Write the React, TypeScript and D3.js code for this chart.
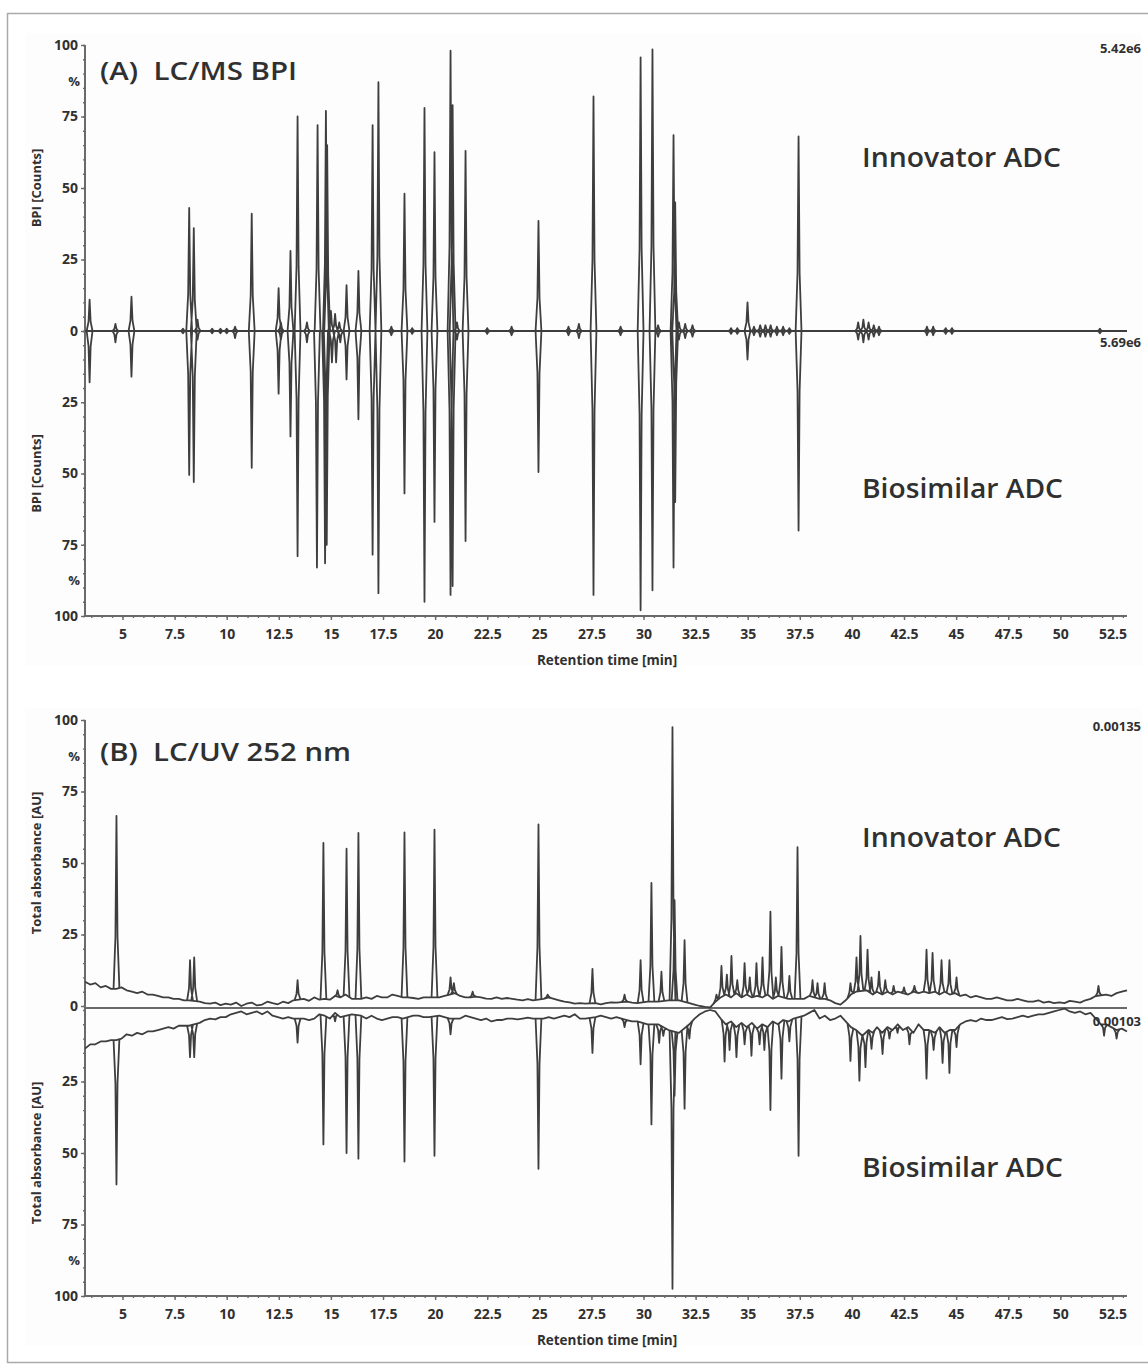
import React, { useEffect, useRef } from "react";
import * as d3 from "d3";

type Pt = [number, number];

// ---- data ----
const timeDomain: Pt = [3.2, 53.2];
const xTickLabels = [5, 7.5, 10, 12.5, 15, 17.5, 20, 22.5, 25, 27.5, 30, 32.5, 35, 37.5, 40, 42.5, 45, 47.5, 50, 52.5];
const yTickLabels = [0, 25, 50, 75, 100];

// (A) LC/MS BPI, [retention time, % height]
const bpiInnovatorPeaks: Pt[] = [
  [3.42, 11], [4.66, 2.5], [5.43, 12], [7.9, 0.8], [8.2, 43], [8.42, 36], [8.6, 4], [9.3, 0.8], [9.7, 0.8],
  [10.0, 0.8], [10.4, 1.5], [11.2, 41], [12.49, 15], [12.6, 3], [13.06, 28], [13.4, 75], [13.85, 3],
  [14.36, 72], [14.76, 77], [14.82, 65], [15.0, 7], [15.2, 6], [15.4, 3], [15.75, 16], [16.32, 21],
  [17.0, 72], [17.28, 87], [17.9, 1.5], [18.53, 48], [18.9, 1], [19.49, 78], [19.97, 62.5], [20.74, 98],
  [20.84, 79], [21.05, 3], [21.46, 63], [22.5, 1], [23.67, 1.5], [24.96, 38.5], [26.4, 1.5], [26.9, 2.5],
  [27.6, 82], [28.9, 1.5], [29.86, 95.7], [30.43, 98.5], [30.7, 2], [31.44, 68.5], [31.52, 45], [31.7, 3],
  [32.0, 2.5], [32.35, 2], [34.2, 1], [34.5, 1], [34.99, 10], [35.3, 1.5], [35.6, 2], [35.85, 2], [36.1, 2],
  [36.4, 1.5], [36.7, 1.5], [37.0, 1], [37.44, 68], [40.3, 3], [40.55, 4], [40.8, 3], [41.05, 2], [41.3, 1.5],
  [43.6, 1.5], [43.9, 1.5], [44.5, 1], [44.8, 1], [51.9, 0.8],
];
const bpiBiosimilarPeaks: Pt[] = [
  [3.42, 18], [4.66, 4], [5.43, 16], [7.9, 0.8], [8.2, 50.5], [8.42, 53], [8.6, 3], [9.3, 0.8], [9.7, 0.8],
  [10.0, 0.8], [10.4, 2.5], [11.2, 48], [12.49, 22], [12.6, 3], [13.06, 37], [13.4, 79], [13.85, 4],
  [14.33, 83], [14.72, 81.5], [14.8, 75], [15.05, 11], [15.25, 11], [15.45, 4], [15.75, 17], [16.32, 31],
  [17.0, 78.5], [17.28, 92], [17.9, 1.5], [18.53, 57], [18.9, 1], [19.49, 95], [19.97, 67], [20.74, 92.6],
  [20.84, 89.5], [21.05, 3], [21.46, 73.7], [22.5, 1], [23.67, 1.5], [24.96, 49.5], [26.4, 1.5], [26.9, 2.5],
  [27.6, 92.6], [28.9, 1.5], [29.86, 98], [30.43, 91], [30.7, 2], [31.44, 83], [31.52, 60], [31.7, 3],
  [32.0, 2.5], [32.35, 2], [34.2, 1], [34.5, 1], [34.99, 10], [35.3, 1.5], [35.6, 2], [35.85, 2], [36.1, 2],
  [36.4, 1.5], [36.7, 1.5], [37.0, 1], [37.44, 70], [40.3, 3], [40.55, 4], [40.8, 3], [41.05, 2], [41.3, 1.5],
  [43.6, 1.5], [43.9, 1.5], [44.5, 1], [44.8, 1], [51.9, 0.8],
];

// (B) LC/UV 252 nm baselines, [retention time, %]
const uvInnovatorBaseline: Pt[] = [
  [3.2, 8.5], [3.45, 7.5], [3.7, 8], [3.95, 6.5], [4.2, 7], [4.45, 6], [4.7, 6], [4.95, 6.5], [5.2, 5.5],
  [5.45, 5], [5.7, 4.5], [5.95, 5], [6.2, 4], [6.45, 4], [6.7, 3.5], [6.95, 3], [7.2, 3], [7.45, 2.5],
  [7.7, 2.5], [7.95, 2], [8.2, 2], [8.7, 1.5], [8.95, 1], [9.2, 0.8], [9.45, 1.2], [9.7, 0.3], [9.95, 0.8],
  [10.2, 0.5], [10.45, 1.2], [10.7, 0], [10.95, 0.8], [11.2, 1.2], [11.45, 0.2], [11.7, 0.5], [11.95, 1.5],
  [12.2, 1], [12.45, 0.6], [12.7, 1.5], [12.95, 1], [13.2, 2], [13.7, 2.5], [13.95, 1.8], [14.2, 3], [14.45, 2.2],
  [14.7, 2.5], [14.95, 2.2], [15.2, 3.5], [15.45, 3], [15.7, 4], [16.0, 2.5], [16.45, 2.5], [16.7, 3],
  [16.95, 2.5], [17.2, 3.5], [17.45, 3], [17.7, 3], [17.95, 4], [18.2, 3.5], [18.45, 3], [18.7, 3], [18.95, 2.8],
  [19.2, 2.5], [19.45, 3], [19.7, 3], [20.2, 3], [20.45, 3.5], [20.7, 4], [20.95, 4.5], [21.2, 3.5],
  [21.45, 3], [21.7, 3], [21.95, 3.3], [22.2, 3], [22.45, 2.6], [22.7, 2.5], [22.95, 3], [23.2, 2.5],
  [23.45, 2.8], [23.7, 2.5], [23.95, 2.2], [24.2, 2], [24.45, 2.4], [24.7, 2], [25.2, 2.5], [25.45, 3],
  [25.7, 2.5], [25.95, 2], [26.2, 1.5], [26.45, 1.3], [26.7, 0.8], [26.95, 1], [27.2, 0.8], [27.7, 1],
  [27.95, 0.6], [28.2, 1], [28.45, 1.3], [28.7, 1.2], [29.2, 1.5], [29.45, 1.2], [29.7, 1], [30.2, 1.5],
  [30.7, 1.5], [31.2, 2], [31.7, 2], [32.2, 1], [32.45, 0.5], [32.7, 0], [32.95, -0.3], [33.2, -0.5],
  [33.45, 1.5], [33.7, 3], [33.95, 4], [34.2, 3], [34.45, 4.5], [34.7, 3], [34.95, 4], [35.2, 3], [35.45, 3.5],
  [35.7, 3], [35.95, 4], [36.2, 2.5], [36.45, 3.5], [36.7, 3], [36.95, 2.5], [37.2, 2.5],
  [37.7, 2.5], [37.95, 3.5], [38.2, 3], [38.45, 2.5], [38.7, 2.5], [38.95, 2], [39.2, 1], [39.45, 0.5],
  [39.7, 2], [39.95, 4], [40.2, 5], [40.7, 5.5], [41.0, 4], [41.2, 5], [41.45, 4], [41.7, 5], [41.95, 4], [42.2, 5],
  [42.45, 4.5], [42.7, 4], [42.95, 5], [43.2, 4.5], [43.45, 5], [43.7, 4.5], [44.0, 5], [44.2, 4], [44.45, 5],
  [44.7, 4], [44.95, 4.5], [45.2, 3.5], [45.45, 4], [45.7, 3], [45.95, 3.5], [46.2, 3], [46.45, 2.5], [46.7, 2.5], [46.95, 3],
  [47.2, 2.5], [47.45, 2], [47.7, 2], [47.95, 2.5], [48.2, 2], [48.45, 1.5], [48.7, 1.5], [48.95, 2],
  [49.2, 1.2], [49.45, 1.5], [49.7, 1], [49.95, 1.3], [50.2, 1], [50.45, 1.8], [50.7, 1.5], [50.95, 1.2],
  [51.2, 2], [51.45, 2.5], [51.7, 3.5], [52.2, 4], [52.45, 3.5], [52.7, 4.5], [52.95, 5], [53.2, 5.5],
];
const uvBiosimilarBaseline: Pt[] = [
  [3.2, 13.5], [3.45, 12], [3.7, 12], [3.95, 11], [4.2, 11], [4.45, 10.5], [4.7, 10.5], [4.95, 10],
  [5.2, 8.5], [5.45, 9], [5.7, 8], [5.95, 8.5], [6.2, 7.5], [6.45, 7.5], [6.7, 7], [6.95, 6.5], [7.2, 6],
  [7.45, 6.5], [7.7, 5.5], [7.95, 5.5], [8.2, 5.5], [8.7, 4.5], [8.95, 3.5], [9.2, 3], [9.45, 3.3],
  [9.7, 2.5], [9.95, 2.5], [10.2, 1.5], [10.45, 1], [10.7, 0.5], [10.95, 1.5], [11.2, 1], [11.45, 0.5],
  [11.7, 1.5], [11.95, 0.5], [12.2, 2], [12.45, 2.5], [12.7, 3], [12.95, 2.5], [13.2, 3], [13.7, 3],
  [13.95, 3.5], [14.2, 3], [14.45, 1.5], [14.7, 2], [14.95, 3], [15.2, 1], [15.45, 2.5], [16.0, 1.5],
  [16.45, 2], [16.7, 3], [16.95, 2], [17.2, 3], [17.45, 3.5], [17.7, 3], [17.95, 2.5], [18.2, 2.5],
  [18.45, 3], [18.7, 2.5], [18.95, 2], [19.2, 2], [19.45, 2.5], [19.7, 2.5], [20.2, 2], [20.45, 2.5],
  [20.7, 3], [20.95, 3], [21.2, 3], [21.45, 2], [21.7, 2.5], [21.95, 3], [22.2, 3.5], [22.45, 3],
  [22.7, 4], [22.95, 3.5], [23.2, 3.5], [23.45, 3], [23.7, 3], [23.95, 3.3], [24.2, 3], [24.45, 2.7],
  [24.7, 3], [25.2, 3], [25.45, 2.5], [25.7, 3], [25.95, 2.5], [26.2, 2], [26.45, 2.5], [26.7, 1.5],
  [26.95, 3], [27.2, 3], [27.7, 2.5], [27.95, 2], [28.2, 2.5], [28.45, 3], [28.7, 2.5], [28.95, 3],
  [29.2, 3.5], [29.45, 4], [29.7, 4], [30.2, 5], [30.7, 5], [31.2, 7], [31.7, 8], [32.2, 5], [32.45, 3],
  [32.7, 1.5], [32.95, 0.5], [33.2, 0], [33.45, 0.5], [33.7, 3], [33.95, 5], [34.2, 4], [34.45, 6], [34.7, 4.5],
  [34.95, 6], [35.2, 4.5], [35.45, 6.5], [35.7, 5], [35.95, 6], [36.2, 4], [36.45, 5], [36.7, 3.5], [36.95, 4],
  [37.2, 3], [37.7, 2], [37.95, 1], [38.2, 0], [38.45, 3], [38.7, 2],
  [38.95, 3.5], [39.2, 3], [39.45, 2], [39.7, 4], [39.95, 6], [40.2, 7], [40.5, 9], [40.8, 7], [41.0, 8], [41.2, 6],
  [41.45, 8], [41.7, 6], [41.95, 7], [42.2, 5], [42.45, 7], [42.7, 6], [42.95, 8], [43.2, 5], [43.45, 7], [43.7, 7],
  [44.0, 8], [44.2, 6], [44.45, 8], [44.7, 7], [44.95, 7], [45.2, 5], [45.45, 4], [45.7, 3.5],
  [45.95, 4], [46.2, 3], [46.45, 3.5], [46.7, 3.5], [46.95, 3], [47.2, 2.5], [47.45, 3.2], [47.7, 3],
  [47.95, 2.5], [48.2, 2], [48.45, 2.5], [48.7, 2], [48.95, 1.5], [49.2, 1.5], [49.45, 1], [49.7, 0.5],
  [49.95, 0], [50.2, -0.5], [50.45, 0.5], [50.7, 1], [50.95, 0.5], [51.2, 1.5], [51.45, 1], [51.7, 3],
  [51.95, 5], [52.2, 5], [52.45, 6], [52.7, 7], [52.95, 6.5], [53.2, 7.5],
];
// (B) peak apexes, [retention time, %]
const uvInnovatorPeaks: Pt[] = [
  [4.71, 66.5], [8.24, 16], [8.44, 17], [13.4, 9], [14.64, 57], [15.32, 5.5], [15.75, 55], [16.32, 60.5],
  [18.53, 60.7], [19.97, 61.7], [20.74, 10], [20.9, 8], [21.8, 5], [24.96, 63.5], [25.4, 4], [27.55, 13],
  [29.09, 4], [29.86, 16], [30.38, 43], [30.86, 12], [31.39, 97.5], [31.49, 37], [31.97, 23],
  [33.5, 4], [33.74, 14], [34.0, 11], [34.22, 17.5], [34.5, 9], [34.85, 15], [35.1, 10], [35.42, 15],
  [35.71, 17], [36.09, 33], [36.35, 10], [36.62, 20.7], [37.0, 10.5], [37.39, 55.5], [38.11, 9],
  [38.35, 8], [38.69, 8], [39.93, 8], [40.22, 17], [40.41, 24.5], [40.75, 19.7], [40.94, 10], [41.3, 12],
  [41.6, 9], [42.0, 7], [42.5, 6.5], [43.0, 7], [43.58, 19.7], [43.87, 18.6], [44.3, 16], [44.68, 16],
  [45.02, 10], [51.83, 7],
];
const uvBiosimilarPeaks: Pt[] = [
  [4.71, 61], [8.24, 16.5], [8.44, 16.5], [13.4, 11.4], [14.64, 47], [15.2, 4], [15.75, 50], [16.32, 52],
  [18.53, 53], [19.97, 51], [20.74, 8.5], [24.96, 55.5], [27.55, 15], [29.09, 6], [29.86, 19], [30.38, 40],
  [30.75, 11.5], [30.95, 9], [31.39, 97.5], [31.49, 30], [31.97, 34.5], [32.2, 10],
  [33.89, 18], [34.13, 14], [34.46, 16.5], [34.85, 12], [35.18, 16], [35.57, 12], [35.8, 14], [36.09, 35],
  [36.62, 24], [37.0, 11], [37.44, 51], [39.93, 17.8], [40.36, 24.7], [40.65, 20], [40.94, 13.6],
  [41.47, 15.4], [41.8, 10], [42.19, 8], [42.76, 12], [43.58, 24], [43.92, 14], [44.35, 18.5], [44.68, 22],
  [45.02, 13], [52.1, 9], [52.7, 10],
];

// ---- style ----
const FONT = "'Open Sans', 'DejaVu Sans', sans-serif";
const TEXT = "#303030";
const AXIS = "#6a6a6a";
const TRACE = "#3e3e3e";
const W = 1148;
const H = 1365;
// peak outline: [time offset, fraction of height]
const peakShape: Pt[] = [[-0.14, 0], [-0.05, 0.3], [0, 1], [0.05, 0.3], [0.14, 0]];

const x = d3.scaleLinear().domain(timeDomain).range([85, 1127]);

const AxisG = ({ make, transform, fontSize = 14 }: any) => {
  const ref = useRef<SVGGElement>(null);
  useEffect(() => {
    const g = d3.select(ref.current);
    g.selectAll("*").remove();
    g.call(make());
    g.attr("font-family", null).attr("font-size", null);
    g.select(".domain").remove();
    g.selectAll(".tick line").attr("stroke", AXIS).attr("stroke-width", 1.4);
    g.selectAll(".tick text")
      .attr("fill", TEXT)
      .attr("font-family", FONT)
      .attr("font-size", fontSize)
      .attr("font-weight", 700);
  }, []);
  return <g ref={ref} transform={transform} />;
};

const Panel = ({ p }: any) => {
  const yUp = d3.scaleLinear().domain([0, 100]).range([p.zeroTop, p.top]);
  const yDown = d3.scaleLinear().domain([0, 100]).range([p.zeroBot, p.bottom]);
  const line = (y: any) => d3.line<Pt>().x((d) => x(d[0])).y((d) => y(d[1]));

  const baseFn = (base: Pt[] | null) =>
    base
      ? d3.scaleLinear().domain(base.map((d) => d[0])).range(base.map((d) => d[1])).clamp(true)
      : () => 0;

  const peaksPath = (peaks: Pt[], base: Pt[] | null, y: any) => {
    const b = baseFn(base);
    const ln = line(y);
    return peaks
      .map(([t, h]) =>
        ln(peakShape.map(([dt, f]) => {
          const b0 = b(t + dt);
          return [t + dt, b0 + (h - b0) * f] as Pt;
        }))
      )
      .join(" ");
  };

  const flat: Pt[] = [[timeDomain[0], 0], [timeDomain[1], 0]];
  const upBase = p.innovBase ? line(yUp)(p.innovBase) : line(yUp)(flat);
  const downBase = p.bioBase ? line(yDown)(p.bioBase) : line(yDown)(flat);

  const minorX = d3.range(3.5, 53.01, 0.5);
  const minorY = d3.range(0, 100.1, 5);

  return (
    <g>
      <rect x={25} y={p.top - 12} width={1117} height={p.bottom - p.top + 62} fill="#fdfdfd" />
      {/* axes */}
      <AxisG
        make={() => d3.axisLeft(yUp).tickValues(minorY).tickSize(2).tickFormat(() => "")}
        transform={`translate(${x.range()[0]},0)`}
      />
      <AxisG
        make={() => d3.axisLeft(yDown).tickValues(minorY).tickSize(2).tickFormat(() => "")}
        transform={`translate(${x.range()[0]},0)`}
      />
      <AxisG
        make={() => d3.axisLeft(yUp).tickValues(yTickLabels).tickSize(4).tickPadding(3)}
        transform={`translate(${x.range()[0]},0)`}
      />
      <AxisG
        make={() => d3.axisLeft(yDown).tickValues(yTickLabels.slice(1)).tickSize(4).tickPadding(3)}
        transform={`translate(${x.range()[0]},0)`}
      />
      <AxisG
        make={() => d3.axisBottom(x).tickValues(minorX).tickSize(2).tickFormat(() => "")}
        transform={`translate(0,${p.bottom})`}
      />
      <AxisG
        make={() => d3.axisBottom(x).tickValues(xTickLabels).tickSize(4).tickPadding(9).tickFormat((d: any) => String(d))}
        transform={`translate(0,${p.bottom})`}
      />
      <text x={80} y={yUp(87.5) + 5} textAnchor="end" fontFamily={FONT} fontSize={13} fontWeight={700} fill={TEXT}>%</text>
      <text x={80} y={yDown(87.5) + 5} textAnchor="end" fontFamily={FONT} fontSize={13} fontWeight={700} fill={TEXT}>%</text>
      <line x1={x.range()[0]} x2={x.range()[0]} y1={p.top} y2={p.bottom} stroke={AXIS} strokeWidth={2} />
      <line x1={x.range()[0]} x2={x.range()[1]} y1={p.bottom} y2={p.bottom} stroke={AXIS} strokeWidth={2} />
      <line x1={x.range()[0]} x2={x.range()[1]} y1={p.mid} y2={p.mid} stroke={AXIS} strokeWidth={2} />

      {/* traces */}
      <g fill="none" stroke={TRACE} strokeWidth={1.8} strokeLinejoin="round">
        <path d={upBase || ""} />
        <path d={downBase || ""} />
        <path d={peaksPath(p.innovPeaks, p.innovBase, yUp)} />
        <path d={peaksPath(p.bioPeaks, p.bioBase, yDown)} />
      </g>

      {/* labels */}
      {[p.zeroTop - (p.zeroTop - p.top) / 2, p.zeroBot + (p.bottom - p.zeroBot) / 2].map((cy, i) => (
        <text key={i} transform={`translate(41,${cy}) rotate(-90)`} textAnchor="middle"
          fontFamily={FONT} fontSize={13} fontWeight={700} fill={TEXT}>{p.yTitle}</text>
      ))}
      <text x={607} y={p.bottom + 49} textAnchor="middle" fontFamily={FONT} fontSize={13.5} fontWeight={700} fill={TEXT}>
        Retention time [min]
      </text>
      <text x={100} y={p.titleY} fontFamily={FONT} fontSize={25} fontWeight={600} fill={TEXT}
        textLength={p.titleW} lengthAdjust="spacingAndGlyphs" style={{ whiteSpace: "pre" }}>{p.title}</text>
      <text x={862} y={p.innovY} fontFamily={FONT} fontSize={27} fontWeight={600} fill={TEXT}
        textLength={199} lengthAdjust="spacingAndGlyphs">Innovator ADC</text>
      <text x={862} y={p.bioY} fontFamily={FONT} fontSize={27} fontWeight={600} fill={TEXT}
        textLength={201} lengthAdjust="spacingAndGlyphs">Biosimilar ADC</text>
      <text x={1141} y={p.upperY} textAnchor="end" fontFamily={FONT} fontSize={13} fontWeight={700} fill={TEXT}>{p.upper}</text>
      <text x={1141} y={p.lowerY} textAnchor="end" fontFamily={FONT} fontSize={13} fontWeight={700} fill={TEXT}>{p.lower}</text>
    </g>
  );
};

const panels = [
  {
    key: "A", title: "(A)  LC/MS BPI", titleY: 80, titleW: 197, yTitle: "BPI [Counts]",
    top: 45, zeroTop: 331, mid: 331, zeroBot: 331, bottom: 616,
    innovY: 167, bioY: 498, upper: "5.42e6", upperY: 53, lower: "5.69e6", lowerY: 347,
    innovPeaks: bpiInnovatorPeaks, bioPeaks: bpiBiosimilarPeaks, innovBase: null, bioBase: null,
  },
  {
    key: "B", title: "(B)  LC/UV 252 nm", titleY: 761, titleW: 251, yTitle: "Total absorbance [AU]",
    top: 720, zeroTop: 1006, mid: 1008, zeroBot: 1010, bottom: 1296,
    innovY: 847, bioY: 1177, upper: "0.00135", upperY: 731, lower: "0.00103", lowerY: 1026,
    innovPeaks: uvInnovatorPeaks, bioPeaks: uvBiosimilarPeaks, innovBase: uvInnovatorBaseline, bioBase: uvBiosimilarBaseline,
  },
];

export default function App() {
  return (
    <svg width={W} height={H} style={{ position: "absolute", left: 0, top: 0, background: "#fff" }}>
      <rect x={7.5} y={13.5} width={1150} height={1349} fill="none" stroke="#aaa" strokeWidth={1.5} />
      {panels.map((p) => (
        <Panel key={p.key} p={p} />
      ))}
    </svg>
  );
}
